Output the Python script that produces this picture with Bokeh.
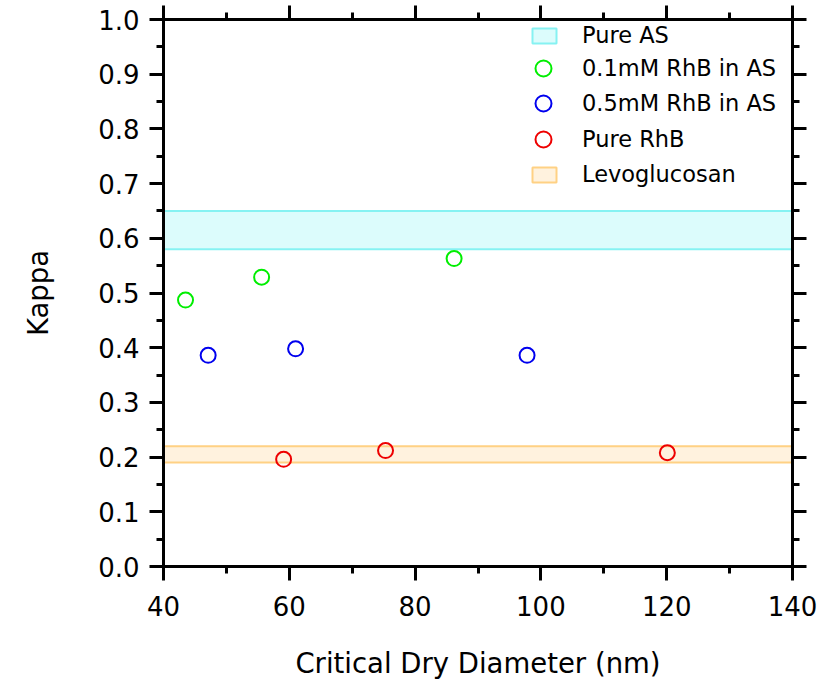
from bokeh.plotting import figure
from bokeh.models import (Range1d, LinearAxis, SingleIntervalTicker, NumeralTickFormatter,
                          Legend, LegendItem)
from bokeh.embed import file_html
from bokeh.resources import INLINE

# ---- data ----
x_limits = [40, 140]
y_limits = [0.0, 1.0]

pure_as_band = [0.58, 0.65]
levo_band = [0.19, 0.22]

rhb01_x = [43.5, 55.6, 86.2]
rhb01_y = [0.487, 0.529, 0.563]

rhb05_x = [47.1, 61.0, 97.8]
rhb05_y = [0.386, 0.398, 0.386]

pure_rhb_x = [59.1, 75.3, 120.1]
pure_rhb_y = [0.196, 0.212, 0.208]

FONT = "DejaVu Sans"

p = figure(width=838, height=684, output_backend="svg", toolbar_location=None,
           x_range=Range1d(*x_limits), y_range=Range1d(*y_limits),
           min_border_left=163, min_border_right=46, min_border_top=19, min_border_bottom=118,
           background_fill_color="white", border_fill_color="white")
p.outline_line_color = None
p.xgrid.visible = False
p.ygrid.visible = False

xticker = SingleIntervalTicker(interval=20, num_minor_ticks=2)
yticker = SingleIntervalTicker(interval=0.1, num_minor_ticks=2)

bottom_axis = p.below[0]
left_axis = p.left[0]
bottom_axis.ticker = xticker
left_axis.ticker = yticker
left_axis.formatter = NumeralTickFormatter(format="0.0")

top_axis = LinearAxis(ticker=xticker)
right_axis = LinearAxis(ticker=yticker)
p.add_layout(top_axis, "above")
p.add_layout(right_axis, "right")

for ax in [bottom_axis, left_axis, top_axis, right_axis]:
    ax.axis_line_width = 3
    ax.axis_line_color = "black"
    ax.major_tick_line_width = 3
    ax.minor_tick_line_width = 3
    ax.major_tick_line_color = "black"
    ax.minor_tick_line_color = "black"
    ax.major_tick_out = 14
    ax.major_tick_in = 0
    ax.minor_tick_out = 7
    ax.minor_tick_in = 0
    ax.major_label_text_font = FONT
    ax.major_label_text_font_size = "26px"
    ax.major_label_text_color = "black"
    ax.axis_label_text_font = FONT
    ax.axis_label_text_font_size = "27.5px"
    ax.axis_label_text_font_style = "normal"
    ax.axis_label_text_color = "black"

for ax in [top_axis, right_axis]:
    ax.major_label_text_font_size = "0px"
    ax.major_label_standoff = 0

bottom_axis.axis_label = "Critical Dry Diameter (nm)"
left_axis.axis_label = "Kappa"
bottom_axis.major_label_standoff = 15
bottom_axis.axis_label_standoff = 28
left_axis.major_label_standoff = 10
left_axis.axis_label_standoff = 41

# bands
r_as = p.quad(left=[x_limits[0]], right=[x_limits[1]], bottom=[pure_as_band[0]], top=[pure_as_band[1]],
              fill_color="#DCFCFC", line_color="#86F2F2", line_width=2)
r_levo = p.quad(left=[x_limits[0]], right=[x_limits[1]], bottom=[levo_band[0]], top=[levo_band[1]],
                fill_color="#FFF2DE", line_color="#FFD184", line_width=2)

r01 = p.scatter(rhb01_x, rhb01_y, marker="circle", size=15, fill_color=None,
                line_color="#00EE00", line_width=2)
r05 = p.scatter(rhb05_x, rhb05_y, marker="circle", size=15, fill_color=None,
                line_color="#0000EE", line_width=2)
rr = p.scatter(pure_rhb_x, pure_rhb_y, marker="circle", size=15, fill_color=None,
               line_color="#EE0000", line_width=2)


def make_legend(items, loc, gw, gh, standoff):
    lg = Legend(items=items, location=loc, glyph_width=gw, glyph_height=gh,
                label_standoff=standoff, spacing=0, padding=0, margin=0,
                border_line_color=None, background_fill_alpha=0,
                label_text_font=FONT, label_text_font_size="22.5px", label_text_color="black",
                label_height=gh)
    p.add_layout(lg, "center")
    return lg


make_legend([LegendItem(label="Pure AS", renderers=[r_as])], (366, 518), 30, 19, 23)
make_legend([LegendItem(label="0.1mM RhB in AS", renderers=[r01])], (360, 478), 40, 40, 19)
make_legend([LegendItem(label="0.5mM RhB in AS", renderers=[r05])], (360, 443), 40, 40, 19)
make_legend([LegendItem(label="Pure RhB", renderers=[rr])], (360, 407), 40, 40, 19)
make_legend([LegendItem(label="Levoglucosan", renderers=[r_levo])], (366, 379), 30, 19, 23)

open("out.html", "w").write(file_html(p, INLINE))
